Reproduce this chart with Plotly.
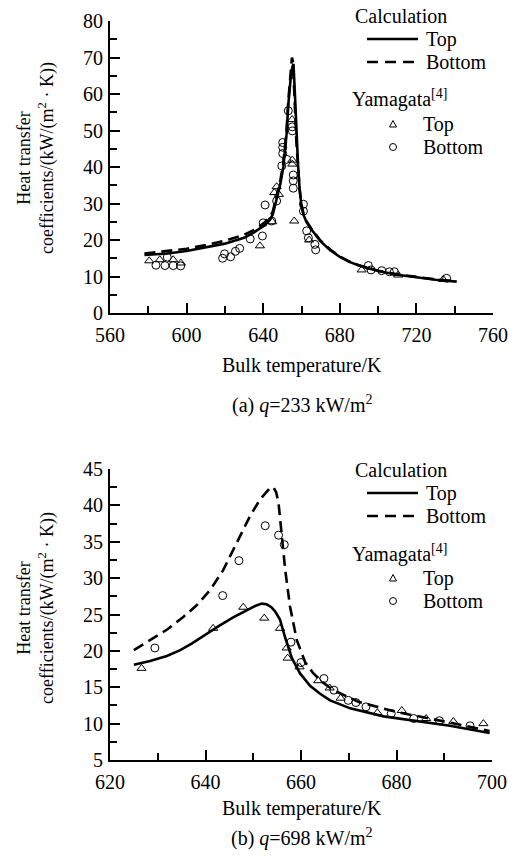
import plotly.graph_objects as go

# ---------------- data: (a) q = 233 kW/m2 ----------------
calc_top_T_a = [578, 590, 600, 610, 620, 630, 635, 640, 643.5, 645, 647, 649, 650.5, 652.2, 653.1, 654.3,
                655.3, 655.8, 656.3, 656.9, 657.5, 658.2, 659, 660, 661, 662.5, 665, 670, 675, 680, 685, 690,
                700, 710, 720, 730, 741]
calc_top_v_a = [15.9, 16.3, 17.0, 17.9, 19.0, 20.6, 22.0, 23.8, 25.5, 27.0, 31.0, 35.5, 40.0, 49.0, 57.0, 64.0,
                67.5, 68.2, 63.0, 55.0, 47.0, 40.5, 34.0, 29.3, 27.0, 25.0, 23.0, 19.6, 17.2, 15.4, 14.0, 13.0,
                11.5, 10.5, 9.8, 9.1, 8.6]
calc_bot_T_a = [578, 590, 600, 610, 620, 630, 635, 640, 643.5, 645, 647, 649, 650.5, 652.2, 653.1, 654.3,
                655.0, 655.5, 656.0, 656.6, 657.3, 658.0, 659, 660, 661, 662.5, 665, 670, 675, 680, 685, 690,
                700, 710, 720, 730, 741]
calc_bot_v_a = [16.3, 16.9, 17.6, 18.6, 19.8, 21.4, 22.7, 24.5, 26.2, 27.8, 31.8, 36.5, 41.0, 50.0, 58.0, 66.0,
                70.0, 69.0, 64.0, 56.0, 47.0, 41.0, 34.0, 29.5, 27.3, 25.2, 23.2, 19.8, 17.4, 15.5, 14.1, 13.1,
                11.6, 10.6, 9.9, 9.2, 8.7]
exp_top_T_a = [580.5, 586.0, 593.0, 597.0, 638.3, 644.7, 645.8, 647.0, 648.2, 655.1, 655.2, 655.2,
               656.2, 664.0, 691.4, 710.5, 734.0]
exp_top_v_a = [14.3, 14.6, 14.6, 13.7, 18.4, 25.0, 33.0, 34.6, 32.5, 53.0, 41.9, 40.8,
               25.2, 20.0, 11.8, 10.4, 9.2]
exp_bot_T_a = [584.0, 588.7, 589.9, 593.0, 596.9, 618.8, 619.8, 623.0, 625.5, 627.7, 633.2, 639.6, 640.0,
               641.0, 644.4, 647.0, 649.7, 650.2, 650.2, 650.2, 652.3, 653.1, 655.2, 655.2, 655.7, 655.7,
               655.7, 661.0, 661.0, 662.7, 663.6, 667.0, 667.4, 694.9, 696.3, 701.9, 705.9, 708.5, 735.8]
exp_bot_v_a = [13.1, 13.0, 15.3, 13.0, 12.9, 15.0, 16.2, 15.4, 16.9, 17.7, 20.3, 21.1, 24.7,
               29.6, 25.2, 30.7, 40.3, 46.7, 45.4, 43.7, 42.1, 55.4, 51.0, 49.9, 37.8, 36.2,
               34.2, 29.8, 27.9, 22.5, 20.6, 18.8, 17.3, 13.0, 11.8, 11.6, 11.3, 11.3, 9.5]

# ---------------- data: (b) q = 698 kW/m2 ----------------
calc_top_T_b = [625, 628.4, 631.9, 634.7, 637.1, 640.3, 643.0, 645.8, 648.6, 650.5, 651.8, 652.8, 653.8,
                654.6, 655.6, 656.7, 658.1, 659.8, 661.9, 664.0, 666.1, 670.3, 677.3, 684.3, 691.2, 699.5]
calc_top_v_b = [18.1, 18.6, 19.3, 20.1, 21.0, 22.4, 23.5, 24.6, 25.6, 26.2, 26.5, 26.4, 26.0,
                25.4, 24.3, 21.8, 19.0, 16.9, 15.2, 14.1, 13.2, 12.1, 11.0, 10.3, 9.7, 8.7]
calc_bot_T_b = [625, 628.4, 631.9, 635.4, 638.2, 641.0, 643.7, 646.5, 649.3, 651.4, 652.6, 653.5, 654.2,
                654.8, 655.3, 656.0, 656.7, 657.7, 659.1, 660.9, 662.6, 664.5, 666.8, 672.0, 680.0, 690.0, 699.5]
calc_bot_v_b = [20.1, 21.5, 22.9, 24.7, 26.3, 28.4, 31.1, 34.8, 38.5, 40.8, 41.8, 42.4, 42.5,
                41.8, 40.3, 35.7, 31.1, 26.1, 21.5, 18.4, 16.9, 15.7, 14.6, 13.0, 11.6, 10.3, 9.0]
exp_top_T_b = [626.6, 641.6, 647.9, 652.3, 655.6, 657.0, 657.2, 659.7, 663.6, 666.0, 668.3,
               676.0, 681.1, 686.2, 691.9, 698.2]
exp_top_v_b = [17.6, 23.1, 26.0, 24.5, 23.1, 20.4, 19.0, 17.8, 15.9, 14.9, 13.5,
               11.5, 11.8, 10.7, 10.3, 10.0]
exp_bot_T_b = [629.4, 643.6, 647.0, 652.5, 655.3, 656.5, 657.9, 660.0, 664.8, 666.9, 669.9, 671.5,
               673.6, 678.9, 683.6, 689.0, 695.4]
exp_bot_v_b = [20.4, 27.6, 32.4, 37.2, 35.9, 34.6, 21.2, 18.4, 16.2, 14.6, 13.2, 12.9,
               12.3, 11.4, 10.7, 10.4, 9.7]

x_ticks_a = [560, 600, 640, 680, 720, 760]
y_ticks_a = [0, 10, 20, 30, 40, 50, 60, 70, 80]
x_ticks_b = [620, 640, 660, 680, 700]
y_ticks_b = [5, 10, 15, 20, 25, 30, 35, 40, 45]

W, H = 524, 867
FONT = "Liberation Serif"


def px(x):
    return x / W


def py(y):
    return 1 - y / H


fig = go.Figure()

line_w = 2.6
dash = "11px,6px"

for xa, ya, ct, cv, bt, bv, et, ev, ebt, ebv in [
    ("x", "y", calc_top_T_a, calc_top_v_a, calc_bot_T_a, calc_bot_v_a, exp_top_T_a, exp_top_v_a, exp_bot_T_a, exp_bot_v_a),
    ("x2", "y2", calc_top_T_b, calc_top_v_b, calc_bot_T_b, calc_bot_v_b, exp_top_T_b, exp_top_v_b, exp_bot_T_b, exp_bot_v_b),
]:
    fig.add_trace(go.Scatter(x=bt, y=bv, mode="lines", xaxis=xa, yaxis=ya,
                             line=dict(color="black", width=line_w, dash=dash),
                             showlegend=False))
    fig.add_trace(go.Scatter(x=ct, y=cv, mode="lines", xaxis=xa, yaxis=ya,
                             line=dict(color="black", width=line_w),
                             showlegend=False))
    fig.add_trace(go.Scatter(x=et, y=ev, mode="markers", xaxis=xa, yaxis=ya,
                             marker=dict(symbol="triangle-up-open", size=8, color="black", line=dict(width=1)),
                             showlegend=False))
    fig.add_trace(go.Scatter(x=ebt, y=ebv, mode="markers", xaxis=xa, yaxis=ya,
                             marker=dict(symbol="circle-open", size=8, color="black", line=dict(width=1)),
                             showlegend=False))

axis_common = dict(showline=True, linewidth=2, linecolor="black", ticks="inside", ticklen=10,
                   tickwidth=2, tickcolor="black", showgrid=False, zeroline=False, automargin=False,
                   tickfont=dict(family=FONT, size=20, color="black"))

fig.update_layout(
    template="none",
    width=W, height=H, margin=dict(l=0, r=0, t=0, b=0, pad=0, autoexpand=False),
    paper_bgcolor="white", plot_bgcolor="white",
    font=dict(family=FONT, color="black"),
    xaxis=dict(domain=[px(110), px(493)], range=[560, 760], anchor="y", tickvals=x_ticks_a,
               minor=dict(dtick=20, tick0=560, ticks="inside", ticklen=7, tickwidth=2, tickcolor="black"),
               ticklabelstandoff=3, **axis_common),
    yaxis=dict(domain=[py(313), py(21)], range=[0, 80], anchor="x", tickvals=y_ticks_a,
               minor=dict(dtick=5, tick0=0, ticks="inside", ticklen=7, tickwidth=2, tickcolor="black"),
               ticklabelstandoff=1, **axis_common),
    xaxis2=dict(domain=[px(110), px(492)], range=[620, 700], anchor="y2", tickvals=x_ticks_b,
                minor=dict(dtick=10, tick0=620, ticks="inside", ticklen=7, tickwidth=2, tickcolor="black"),
                ticklabelstandoff=3, **axis_common),
    yaxis2=dict(domain=[py(760), py(469)], range=[5, 45], anchor="x2", tickvals=y_ticks_b,
                minor=dict(dtick=2.5, tick0=5, ticks="inside", ticklen=7, tickwidth=2, tickcolor="black"),
                ticklabelstandoff=1, **axis_common),
)

annotations = []
shapes = []


def text(x, y, s, size=20, xanchor="center", angle=0):
    annotations.append(dict(x=px(x), y=py(y), xref="paper", yref="paper", text=s, showarrow=False,
                            xanchor=xanchor, yanchor="middle", textangle=angle,
                            font=dict(family=FONT, size=size, color="black")))


ytitle = "Heat transfer<br>coefficients/(kW/(m<sup>2</sup> · K))"
# chart (a)
text(302, 365, "Bulk temperature/K")
text(302, 404, "(a) <i>q</i>=233 kW/m<sup>2</sup>")
text(36, 158, ytitle, size=18, angle=-90)
# chart (b)
text(302, 808, "Bulk temperature/K")
text(302, 837, "(b) <i>q</i>=698 kW/m<sup>2</sup>")
text(36, 608, ytitle, size=18, angle=-90)

# legends
for y0 in [16, 470]:
    off = y0 - 16
    text(353, 16 + off, "Calculation", xanchor="left")
    text(424, 39 + off, "Top", xanchor="left")
    text(424, 62 + off, "Bottom", xanchor="left")
    text(350, 99 + off, "Yamagata<sup>[4]</sup>", xanchor="left")
    text(421, 124 + off, "Top", xanchor="left")
    text(421, 147 + off, "Bottom", xanchor="left")
    shapes.append(dict(type="line", xref="paper", yref="paper", x0=px(367), x1=px(418),
                       y0=py(39 + off), y1=py(39 + off), line=dict(color="black", width=2.6)))
    shapes.append(dict(type="line", xref="paper", yref="paper", x0=px(367), x1=px(418),
                       y0=py(62 + off), y1=py(62 + off), line=dict(color="black", width=2.6, dash="11px,7px")))
    # triangle key
    tx, ty = 393, 124 + off
    shapes.append(dict(type="path", xref="paper", yref="paper",
                       path=f"M {px(tx-3.5)},{py(ty+3)} L {px(tx+3.5)},{py(ty+3)} L {px(tx)},{py(ty-3.5)} Z",
                       line=dict(color="black", width=1)))
    # circle key
    cx, cy = 393, 147 + off
    shapes.append(dict(type="circle", xref="paper", yref="paper", x0=px(cx-3.5), x1=px(cx+3.5),
                       y0=py(cy+3.5), y1=py(cy-3.5), line=dict(color="black", width=1)))

fig.update_layout(annotations=annotations, shapes=shapes)
fig.write_html("out.html", config={"displayModeBar": False},
               post_script="document.body.style.margin='0';document.body.style.padding='0';")
